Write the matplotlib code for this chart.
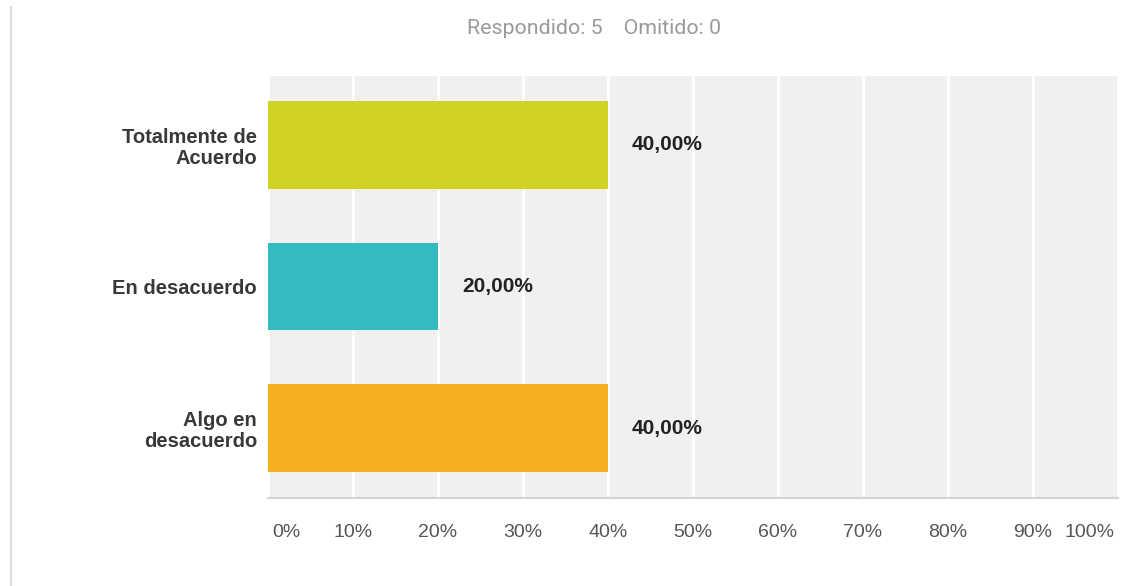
import matplotlib.pyplot as plt
from matplotlib.lines import Line2D
from matplotlib.transforms import ScaledTranslation

categories = ['Totalmente de\nAcuerdo', 'En desacuerdo', 'Algo en\ndesacuerdo']
values = [40.0, 20.0, 40.0]
colors = ['#cfd424', '#32bcbf', '#f4ae1f']
xticks = [0, 10, 20, 30, 40, 50, 60, 70, 80, 90, 100]
xticklabels = [f'{t}%' for t in xticks]
subtitle = 'Respondido: 5    Omitido: 0'

fig = plt.figure(figsize=(11.22, 5.86), dpi=100)
W, H = 1122, 586
# plot area in pixels: left 268, right 1118, top 76, bottom 498
ax = fig.add_axes([268 / W, 1 - 498 / H, 850 / W, 422 / H])
ax.set_facecolor('#f0f0f0')

pos = list(range(len(categories)))
ax.barh(pos, values, height=0.62, color=colors, zorder=3)
ax.set_ylim(2.493, -0.486)
ax.set_xlim(0, 100)

ax.set_xticks(xticks)
ax.set_xticklabels(xticklabels, fontsize=14, color='#555555', family='Liberation Sans')
ax.set_yticks(pos)
ax.set_yticklabels(categories, fontsize=14.5, color='#383838', family='Liberation Sans',
                   fontweight='bold', ha='right', linespacing=1.15)
ax.tick_params(axis='both', length=0)
ax.tick_params(axis='x', pad=19)
ax.tick_params(axis='y', pad=8)

# first and last x labels are pulled inside the plot edges
xl = ax.get_xticklabels()
xl[0].set_ha('left')
xl[0].set_transform(xl[0].get_transform() + ScaledTranslation(4 / 100, 0, fig.dpi_scale_trans))
xl[-1].set_ha('right')
xl[-1].set_transform(xl[-1].get_transform() + ScaledTranslation(-3 / 100, 0, fig.dpi_scale_trans))

ax.xaxis.grid(True, color='white', linewidth=2, zorder=1)
ax.set_axisbelow(True)
for s in ['top', 'right', 'left']:
    ax.spines[s].set_visible(False)
ax.spines['bottom'].set_color('#d4d4d4')
ax.spines['bottom'].set_linewidth(1.5)

for p, v in zip(pos, values):
    ax.text(v + 2.8, p, f'{v:.2f}%'.replace('.', ','), va='center', ha='left',
            fontsize=15, fontweight='bold', color='#222222', family='Liberation Sans')

fig.text(594 / W, 1 - 28 / H, subtitle, ha='center', va='center', fontsize=15.4,
         color='#9a9a9a', family='Roboto')

# thin gray line at far left
fig.add_artist(Line2D([11 / W, 11 / W], [0, 1 - 7 / H], transform=fig.transFigure,
                      color='#dddddd', linewidth=1.5))

fig.savefig('out.png', dpi=100)
